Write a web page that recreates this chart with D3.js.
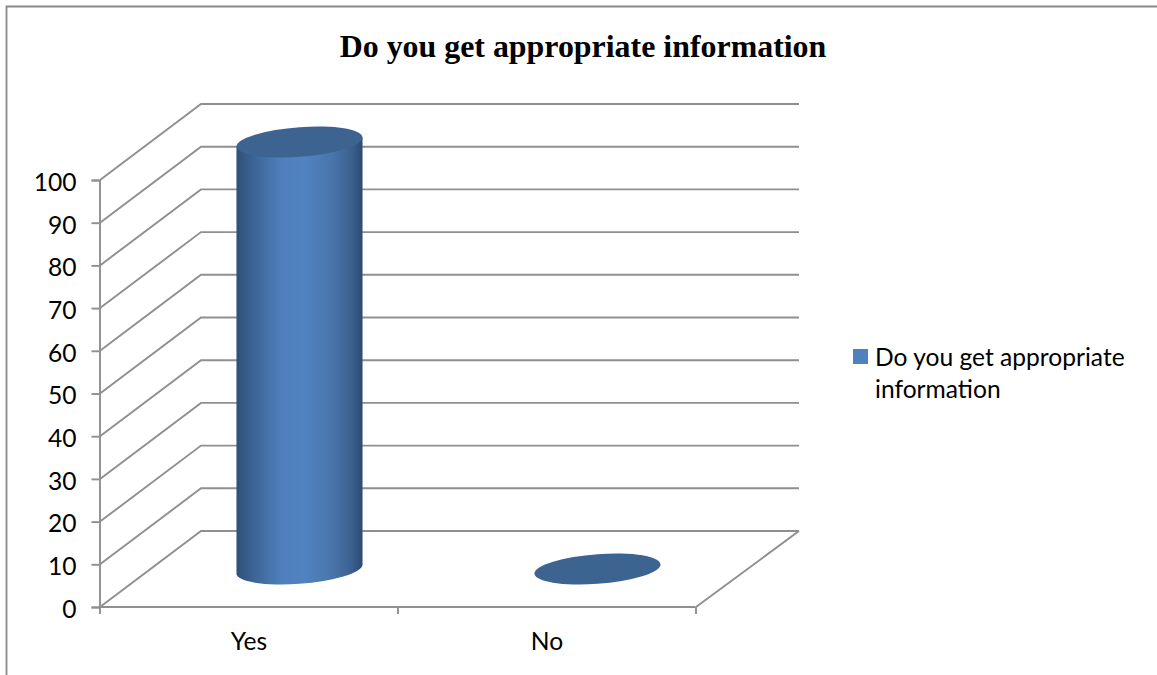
<!DOCTYPE html>
<html><head><meta charset="utf-8">
<script src="https://cdn.jsdelivr.net/npm/d3@7"></script>
<style>
html,body{margin:0;padding:0;background:#fff;overflow:hidden}
svg{display:block}
</style></head><body>
<svg id="c" width="1157" height="675"></svg>
<script>
const categories = ["Yes","No"];
const seriesValues = [100,0];
const legendLines = ["Do you get appropriate","information"];
const titleText = "Do you get appropriate information";
const tickValues = [0,10,20,30,40,50,60,70,80,90,100];

const svg = d3.select("#c");
const gridColor = "#8f8f8f";
const lw = 1.9, fs = 24.6, font = "Lato,sans-serif";
const y = d3.scaleLinear().domain([0,100]).range([607,180]);
const x = d3.scaleBand().domain(categories).range([100,696]);
const edges = d3.scalePoint().domain(d3.range(categories.length+1)).range([100,696]);
const depth = {dx:101, dxRight:103, dy:-76};

// outer frame
svg.append("path").attr("d","M6.5,675V6.5H1157").attr("fill","none").attr("stroke","#8a8a8a").attr("stroke-width",1.8);

svg.append("text").attr("x",583).attr("y",57).attr("text-anchor","middle")
  .attr("font-family","'Liberation Serif',serif").attr("font-weight","bold").attr("font-size",31.9).text(titleText);

// walls and floor
const grid = svg.append("g").attr("fill","none").attr("stroke",gridColor).attr("stroke-width",lw);
tickValues.forEach(v=>{
  grid.append("path").attr("d",`M${x.range()[0]},${y(v)}L${x.range()[0]+depth.dx},${y(v)+depth.dy}H${x.range()[1]+depth.dxRight}`);
});
grid.append("path").attr("d",`M${x.range()[1]},${y(0)}L${x.range()[1]+depth.dxRight},${y(0)+depth.dy}`);

// axes
const ay = svg.append("g").attr("transform",`translate(${x.range()[0]-0.5},0)`)
  .call(d3.axisLeft(y).tickValues(tickValues).tickSize(8).tickPadding(15).tickFormat(d3.format("d")));
ay.select(".domain").attr("stroke",gridColor).attr("stroke-width",lw);
ay.selectAll(".tick line").attr("stroke",gridColor).attr("stroke-width",lw);
ay.selectAll("text").attr("font-size",fs).attr("font-family",font).attr("fill","#000").attr("dy","0.42em");

const ab = svg.append("g").attr("transform",`translate(-0.5,${y(0)})`)
  .call(d3.axisBottom(edges).tickSize(7).tickFormat(""));
ab.select(".domain").attr("d",`M${x.range()[0]},0H${x.range()[1]}`).attr("stroke",gridColor).attr("stroke-width",lw);
ab.selectAll(".tick line").attr("stroke",gridColor).attr("stroke-width",lw);

const al = svg.append("g").attr("transform",`translate(0,${y(0)})`)
  .call(d3.axisBottom(x).tickSize(0).tickPadding(26));
al.select(".domain").remove();
al.selectAll("text").attr("font-size",fs).attr("font-family",font).attr("fill","#000");

// gradient
const defs = svg.append("defs");
const g = defs.append("linearGradient").attr("id","cyl").attr("x1",0).attr("x2",1).attr("y1",0).attr("y2",0);
[[0,"#2f4f78"],[0.14,"#3c6596"],[0.36,"#4f80bd"],[0.55,"#5183c0"],[0.78,"#4873a9"],[0.92,"#3a5f8d"],[1,"#2d4a70"]]
 .forEach(s=>g.append("stop").attr("offset",s[0]).attr("stop-color",s[1]));

// cylinders
const rx = x.bandwidth()*0.2115, ry = 14.8, k = 0.072;
categories.forEach((c,i)=>{
  const cx = x(c)+x.bandwidth()/2+depth.dx/2;
  const y0 = y(0)+depth.dy/2, y1 = y(seriesValues[i])+depth.dy/2;
  const h = y0-y1;
  const layer = svg.append("g").attr("transform",`matrix(1,${-k},0,1,${cx},${y0})`);
  if(h>0){
    layer.append("path")
      .attr("d",`M${-rx},0A${rx},${ry} 0 0 0 ${rx},0V${-h}H${-rx}Z`)
      .attr("fill","url(#cyl)");
  }
  layer.append("ellipse").attr("cx",0).attr("cy",-h).attr("rx",rx).attr("ry",ry).attr("fill","#3d6391");
});

// legend
svg.append("rect").attr("x",853).attr("y",349).attr("width",15).attr("height",15).attr("fill","#4f81bd");
legendLines.forEach((l,i)=>{
  svg.append("text").attr("x",875).attr("y",366+i*31.5).attr("font-family",font).attr("font-size",fs).attr("fill","#000").text(l);
});
</script></body></html>
